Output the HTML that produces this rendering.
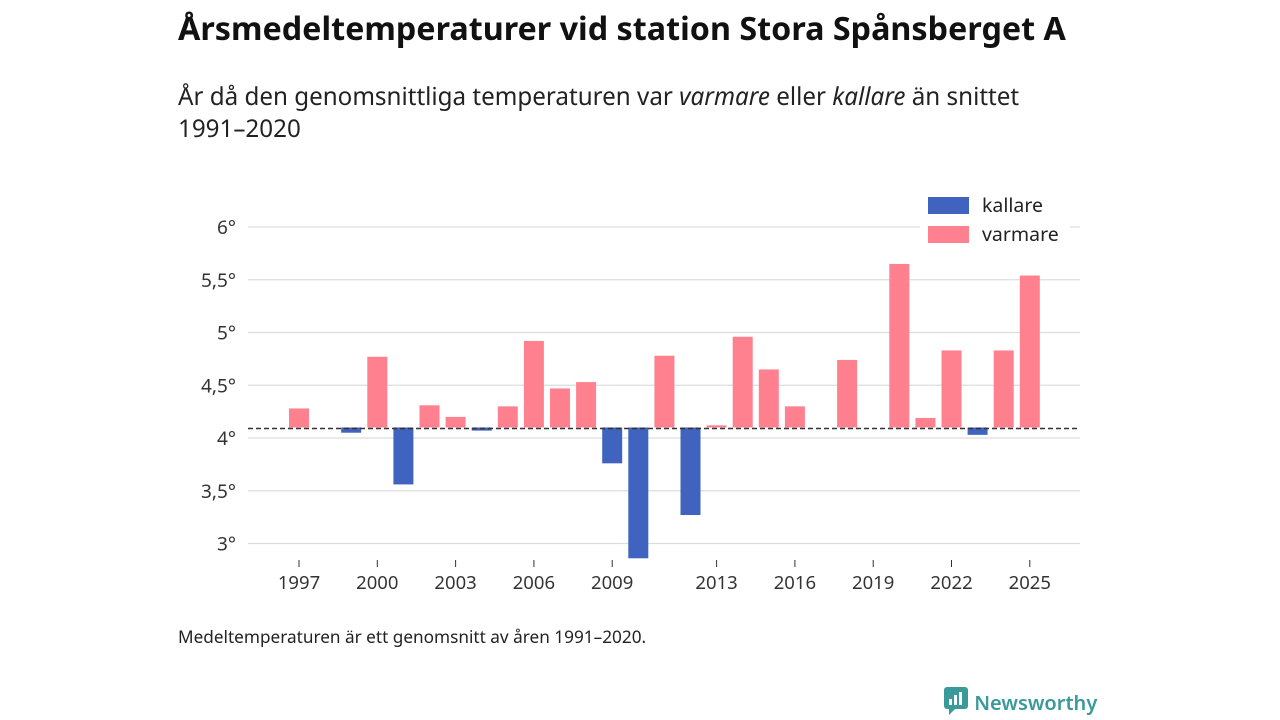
<!DOCTYPE html>
<html><head><meta charset="utf-8">
<style>
body{margin:0;width:1280px;height:720px;background:#fff;font-family:"Noto Sans","Open Sans","Liberation Sans",sans-serif;color:#222;position:relative;overflow:hidden}
h1{position:absolute;left:178px;top:6px;margin:0;font-size:32.3px;font-weight:bold;color:#111;white-space:nowrap}
.sub{position:absolute;left:178px;top:81px;font-size:24.2px;line-height:32px;color:#222;white-space:nowrap}
.foot{position:absolute;left:178px;top:626px;font-size:17.2px}
.logo{position:absolute;left:943px;top:686px;font-size:20px;color:#3a9a9a;font-weight:600}
</style></head><body>
<h1>Årsmedeltemperaturer vid station Stora Spånsberget A</h1>
<div class="sub">År då den genomsnittliga temperaturen var <i>varmare</i> eller <i>kallare</i> än snittet<br>1991–2020</div>
<svg id="chart" width="1280" height="720" style="position:absolute;left:0;top:0"></svg>
<div class="foot">Medeltemperaturen är ett genomsnitt av åren 1991–2020.</div>
<div class="logo"><svg width="26" height="30" style="vertical-align:-6px"><rect x="1" y="1" width="24" height="22" rx="3" fill="#3a9a9a"/><path d="M6 23 L6 29 L12 23Z" fill="#3a9a9a"/><rect x="6" y="13" width="3" height="6" fill="#fff"/><rect x="11" y="9" width="3" height="10" fill="#fff"/><rect x="16" y="6" width="3" height="13" fill="#fff"/></svg> Newsworthy</div>
<script>
const years=[1997,1999,2000,2001,2002,2003,2004,2005,2006,2007,2008,2009,2010,2011,2012,2013,2014,2015,2016,2018,2020,2021,2022,2023,2024,2025];
const temps=[4.28,4.05,4.77,3.56,4.31,4.20,4.07,4.30,4.92,4.47,4.53,3.76,2.86,4.78,3.27,4.12,4.96,4.65,4.30,4.74,5.65,4.19,4.83,4.03,4.83,5.54];
const baseline=4.1;
const yTicks=[3,3.5,4,4.5,5,5.5,6];
const yTickLabels=["3°","3,5°","4°","4,5°","5°","5,5°","6°"];
const xTicks=[1997,2000,2003,2006,2009,2013,2016,2019,2022,2025];
const ns="http://www.w3.org/2000/svg",svg=document.getElementById('chart');
const y=v=>438-(v-4)*105.5, x=yr=>299+(yr-1997)*26.1;
function mk(t,a,p){const e=document.createElementNS(ns,t);for(const k in a)e.setAttribute(k,a[k]);(p||svg).appendChild(e);return e;}
yTicks.forEach((v,i)=>{
 const l=mk('line',{x1:248,x2:1080,y1:y(v),y2:y(v),stroke:'#ddd','stroke-width':1.3});
 
 
 const t=mk('text',{x:236,y:y(v)+7,'text-anchor':'end','font-size':19,fill:'#333'});t.textContent=yTickLabels[i];
 
 
});
xTicks.forEach(yr=>{
 const l=mk('line',{x1:x(yr),x2:x(yr),y1:560,y2:567,stroke:'#333'});
 
 
 const t=mk('text',{x:x(yr),y:589,'text-anchor':'middle','font-size':18.5,fill:'#333'});t.textContent=yr;
 
 
});
years.forEach((yr,i)=>{
 const v=temps[i],warm=v>=baseline;
 const top=y(Math.max(v,baseline)),bot=y(Math.min(v,baseline));
 const r=mk('rect',{x:x(yr)-10,y:top,width:20,height:Math.max(bot-top,1),fill:warm?'#ff808f':'#4063bf'});
 
 
});
const bl=mk('line',{x1:248,x2:1078,y1:y(baseline)+1,y2:y(baseline)+1,stroke:'#333','stroke-width':1.5,'stroke-dasharray':'5,3'});


mk('rect',{x:920,y:190,width:150,height:60,fill:'#fff'});
[['kallare','#4063bf',197],['varmare','#ff808f',226]].forEach(([n,c,yy])=>{
 const g=mk('g',{});
 
 
 mk('rect',{x:928,y:yy,width:41,height:17,fill:c},g);
 const t=mk('text',{x:982,y:yy+15,'font-size':19.5,fill:'#222'},g);t.textContent=n;
});
</script>
</body></html>
